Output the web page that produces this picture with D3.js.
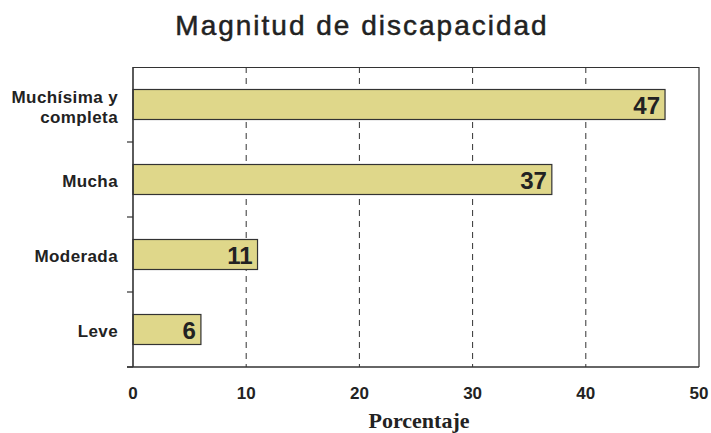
<!DOCTYPE html>
<html>
<head>
<meta charset="utf-8">
<script src="https://cdn.jsdelivr.net/npm/d3@7"></script>
<style>
  html, body { margin: 0; padding: 0; background: #fff; }
  svg { display: block; }
</style>
</head>
<body>
<svg id="chart" width="711" height="433"></svg>
<script>
// Disability magnitude, share of people (%)
const categories = ["Muchísima y completa", "Mucha", "Moderada", "Leve"];
const categoryLines = [["Muchísima y", "completa"], ["Mucha"], ["Moderada"], ["Leve"]];
const values = [47, 37, 11, 6];
const xTicks = [0, 10, 20, 30, 40, 50];

const svg = d3.select("#chart");
const margin = { top: 67, right: 12, bottom: 66, left: 133 };
const W = 711, H = 433;
const iw = W - margin.left - margin.right;
const ih = H - margin.top - margin.bottom;

const x = d3.scaleLinear().domain([0, 50]).range([0, iw]);
const y = d3.scaleBand().domain(categories).range([0, ih]).paddingInner(0.6).paddingOuter(0.3);
const yBand = d3.scaleBand().domain(categories).range([0, ih]);

svg.append("text")
  .attr("x", 362).attr("y", 35)
  .attr("text-anchor", "middle")
  .attr("font-family", "'Liberation Sans', Arial, sans-serif")
  .attr("font-size", 28)
  .attr("letter-spacing", 2)
  .attr("fill", "#222")
  .attr("stroke", "#222").attr("stroke-width", 0.5)
  .text("Magnitud de discapacidad");

const g = svg.append("g").attr("transform", `translate(${margin.left},${margin.top})`);

// dashed vertical gridlines
g.selectAll("line.grid")
  .data(xTicks.filter(t => t > 0 && t < 50))
  .join("line")
  .attr("class", "grid")
  .attr("x1", d => x(d)).attr("x2", d => x(d))
  .attr("y1", 0).attr("y2", ih)
  .attr("stroke", "#333").attr("stroke-width", 1)
  .attr("stroke-dasharray", "6,5");

// plot frame (top and right)
g.append("path")
  .attr("d", `M0,0.5H${x(50)}V${ih}`)
  .attr("fill", "none").attr("stroke", "#333").attr("stroke-width", 1.2);

// bars
g.selectAll("rect.bar")
  .data(values)
  .join("rect")
  .attr("class", "bar")
  .attr("x", 0)
  .attr("y", (d, i) => y(categories[i]))
  .attr("width", d => x(d))
  .attr("height", y.bandwidth())
  .attr("fill", "#dfd78a")
  .attr("stroke", "#333").attr("stroke-width", 1.2);

// value labels inside bar ends
g.selectAll("text.val")
  .data(values)
  .join("text")
  .attr("class", "val")
  .attr("x", d => x(d) - 5)
  .attr("y", (d, i) => y(categories[i]) + y.bandwidth() / 2 + 9)
  .attr("text-anchor", "end")
  .attr("font-family", "'Liberation Sans', Arial, sans-serif")
  .attr("font-weight", "bold")
  .attr("font-size", 24)
  .attr("fill", "#222")
  .text(d => d);

// left axis line with ticks at band boundaries
g.append("line")
  .attr("x1", 0).attr("x2", 0).attr("y1", 0).attr("y2", ih)
  .attr("stroke", "#333").attr("stroke-width", 1.6);
g.selectAll("line.ytick")
  .data(categories.slice(1).map(c => yBand(c)).concat([ih]))
  .join("line")
  .attr("class", "ytick")
  .attr("x1", -6).attr("x2", 0)
  .attr("y1", d => d).attr("y2", d => d)
  .attr("stroke", "#333").attr("stroke-width", 1.2);

// bottom axis line
g.append("line")
  .attr("x1", -6).attr("x2", x(50)).attr("y1", ih).attr("y2", ih)
  .attr("stroke", "#333").attr("stroke-width", 1.6);

// category labels
const cat = g.selectAll("text.cat")
  .data(categories)
  .join("text")
  .attr("class", "cat")
  .attr("text-anchor", "end")
  .attr("font-family", "'Liberation Sans', Arial, sans-serif")
  .attr("font-weight", "bold")
  .attr("font-size", 17)
  .attr("letter-spacing", 0.4)
  .attr("fill", "#222");
cat.each(function(c, i) {
  const lines = categoryLines[i];
  const cy = y(c) + y.bandwidth() / 2;
  const lh = 20;
  const t = d3.select(this);
  lines.forEach((ln, k) => {
    t.append("tspan")
      .attr("x", -15)
      .attr("y", cy + 7 + (k - (lines.length - 1) / 2) * lh + (lines.length > 1 ? 1 : 0))
      .text(ln);
  });
});

// x tick labels
g.selectAll("text.xt")
  .data(xTicks)
  .join("text")
  .attr("class", "xt")
  .attr("x", d => x(d))
  .attr("y", ih + 32)
  .attr("text-anchor", "middle")
  .attr("font-family", "'Liberation Sans', Arial, sans-serif")
  .attr("font-weight", "bold")
  .attr("font-size", 17)
  .attr("fill", "#222")
  .text(d => d);

// x axis title
g.append("text")
  .attr("x", iw / 2 + 3)
  .attr("y", ih + 61)
  .attr("text-anchor", "middle")
  .attr("font-family", "'Liberation Serif', 'Times New Roman', serif")
  .attr("font-weight", "bold")
  .attr("font-size", 22)
  .attr("fill", "#222")
  .text("Porcentaje");
</script>
</body>
</html>
